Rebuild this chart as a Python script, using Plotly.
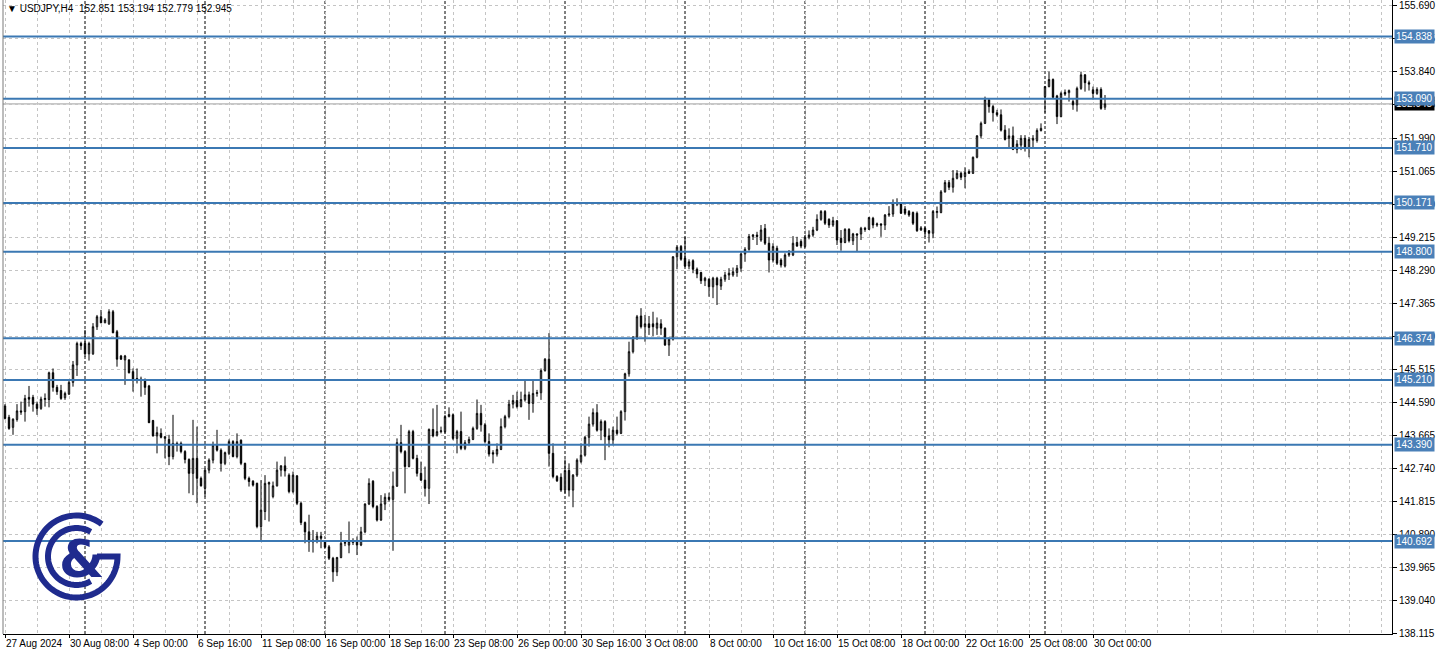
import math
import plotly.graph_objects as go

# ---------------- data (USDJPY H4) ----------------
opens = [
144.48,144.16,143.88,144.10,144.34,144.32,144.72,144.72,144.53,144.41,144.66,144.66,145.41,145.00,144.91,144.71,
144.81,145.14,145.63,146.23,146.23,145.94,145.94,146.70,146.98,146.81,146.78,147.12,146.56,145.88,145.77,145.77,
145.44,145.25,145.19,145.21,145.04,144.07,143.64,143.71,143.57,143.54,143.06,143.43,143.43,143.20,142.98,142.59,
143.01,142.45,142.17,142.68,142.96,143.38,143.24,142.87,143.15,143.48,143.06,143.52,142.87,142.45,142.37,142.31,
141.10,141.52,142.29,141.94,142.24,142.68,142.80,142.54,142.08,142.52,141.75,141.21,140.95,140.72,140.70,140.83,
140.70,140.53,140.21,139.83,140.23,140.63,140.58,140.65,140.70,140.58,140.95,141.73,142.37,141.66,141.28,141.73,
141.92,141.86,142.23,143.45,143.20,142.78,143.76,143.01,142.59,142.40,142.17,143.82,143.66,143.76,143.76,144.18,
144.23,143.57,143.76,143.29,143.45,143.54,143.85,144.27,143.95,143.48,143.17,143.13,143.26,143.90,144.18,144.53,
144.63,144.46,144.65,144.79,144.55,144.83,144.85,145.47,145.79,143.15,142.50,142.48,142.12,142.67,142.12,142.54,
142.92,143.10,143.60,143.97,144.29,143.80,144.04,143.64,143.53,143.80,143.71,144.32,145.38,146.00,146.40,147.00,
146.70,146.78,146.78,146.66,146.78,146.66,146.19,146.35,148.66,148.95,148.62,148.40,148.55,148.31,148.22,147.99,
148.03,147.82,148.06,147.84,148.03,148.15,148.15,148.22,148.34,148.74,148.87,149.23,149.27,149.13,149.45,149.04,
148.57,148.90,148.57,148.40,148.71,148.71,149.06,149.09,148.95,149.21,149.27,149.41,149.71,149.93,149.71,149.55,
149.67,149.18,149.06,149.43,149.11,149.30,149.30,149.46,149.43,149.74,149.55,149.58,149.55,149.83,149.86,150.18,
150.14,150.00,149.93,149.90,149.88,149.41,149.46,149.39,149.32,149.90,149.90,150.48,150.74,150.61,150.86,151.00,
150.91,151.05,151.00,151.45,152.05,152.40,153.06,152.87,152.70,152.64,152.21,151.98,152.05,151.67,151.79,151.98,
151.70,151.93,151.92,152.20,153.15,153.43,153.63,153.17,152.59,153.27,153.26,153.01,152.92,153.38,153.76,153.54,
153.34,153.24,153.35,152.851]
highs = [
144.53,144.23,144.13,144.53,144.60,144.79,145.04,144.79,144.60,144.74,144.83,145.44,145.53,145.07,145.07,144.88,
145.21,145.74,146.28,146.28,146.61,146.28,146.80,147.03,147.17,146.94,147.19,147.17,146.61,145.91,145.91,145.79,
145.53,145.53,145.30,145.25,145.07,144.09,143.90,143.85,143.62,143.67,144.23,143.48,143.48,143.24,143.01,144.09,
143.90,142.50,142.73,143.01,143.48,143.81,143.29,143.20,143.54,143.52,143.71,143.54,142.89,142.50,142.40,142.33,
142.40,142.54,142.36,142.36,142.92,142.82,143.06,142.59,142.64,142.54,141.80,141.24,141.43,141.00,140.95,140.95,
140.72,140.58,140.25,140.25,140.95,140.72,141.24,140.77,140.82,141.09,141.75,142.45,142.40,141.70,141.98,142.03,
142.05,142.64,143.57,143.95,143.24,143.81,143.81,143.11,142.92,142.78,143.85,144.41,144.51,143.90,144.23,144.44,
144.27,143.81,144.32,143.52,143.62,143.90,144.66,144.51,144.00,143.71,143.24,143.43,144.13,144.23,144.65,144.79,
144.88,144.88,145.21,144.88,145.21,144.93,145.53,145.82,146.52,143.43,142.54,142.59,142.98,142.87,142.57,143.01,
143.43,143.64,144.18,144.41,144.53,144.10,144.08,143.85,143.90,144.18,144.36,145.41,146.28,146.44,147.03,147.22,
147.03,147.00,147.12,146.96,146.91,146.68,146.40,148.68,148.99,148.99,149.22,148.59,148.59,148.36,148.24,148.10,
148.06,148.10,148.10,148.10,148.24,148.34,148.36,148.43,148.78,148.93,149.30,149.30,149.36,149.55,149.58,149.22,
149.04,148.97,148.62,148.76,148.85,149.24,149.22,149.15,149.27,149.40,149.50,149.85,149.97,149.97,149.74,149.78,
149.69,149.41,149.46,149.46,149.33,149.32,149.50,149.50,149.78,149.78,149.62,149.60,149.86,150.08,150.27,150.30,
150.18,150.08,149.97,149.93,149.93,149.52,149.50,149.41,149.97,150.07,150.53,150.81,150.81,151.09,151.09,151.05,
151.17,151.11,151.47,152.07,152.45,153.15,153.10,152.92,152.78,152.79,152.35,152.26,152.31,151.93,152.07,152.07,
152.02,152.07,152.26,152.40,153.45,153.85,153.66,153.20,153.29,153.35,153.35,153.07,153.43,153.85,153.78,153.60,
153.43,153.41,153.41,153.194]
lows = [
144.10,143.81,143.67,144.04,144.23,144.04,144.46,144.32,144.23,144.37,144.46,144.44,144.88,144.79,144.65,144.65,
144.79,145.02,145.32,146.05,145.86,145.75,145.91,146.61,146.80,146.80,146.75,146.52,145.58,145.77,145.07,145.39,
144.88,145.11,144.74,144.79,144.00,143.62,143.15,143.57,143.01,142.82,142.98,143.20,143.15,142.87,142.03,141.98,
141.75,142.22,141.94,142.59,142.87,143.20,142.64,142.82,143.10,143.04,143.01,142.82,142.40,142.22,142.22,141.05,
140.72,141.28,141.24,141.89,142.22,142.50,142.50,142.03,142.03,141.70,141.14,140.63,140.39,140.37,140.63,140.49,
140.49,140.16,139.55,139.71,140.21,140.55,140.35,140.58,140.30,140.55,140.91,141.70,141.61,141.24,141.26,141.56,
141.80,140.42,142.21,143.15,142.03,142.76,142.98,142.50,142.38,141.94,141.73,143.60,143.62,143.71,143.71,144.16,
143.52,143.15,143.24,143.24,143.38,143.52,143.81,143.76,143.43,143.06,142.87,143.06,143.24,143.85,144.13,144.41,
144.41,144.44,144.60,144.09,144.29,144.74,144.65,145.44,142.78,142.45,142.35,142.07,142.03,141.94,141.64,142.49,
142.87,143.06,143.34,143.90,143.76,143.52,142.96,143.32,143.38,143.66,143.69,144.07,145.30,145.95,146.33,146.65,
146.28,146.47,146.44,146.47,146.47,146.16,145.88,146.31,148.31,148.55,148.37,148.31,148.20,148.06,147.90,147.84,
147.54,147.50,147.31,147.73,147.96,148.01,148.10,148.10,148.24,148.52,148.83,149.13,148.99,149.08,148.99,148.22,
148.50,148.43,148.36,148.36,148.66,148.68,148.94,148.90,148.90,149.15,149.22,149.38,149.67,149.55,149.47,149.50,
148.99,148.83,149.04,149.06,148.99,148.80,149.13,149.36,149.41,149.46,149.50,149.22,149.41,149.78,149.78,150.08,
149.86,149.83,149.78,149.55,149.36,149.39,149.22,149.06,149.18,149.74,149.88,150.46,150.53,150.46,150.83,150.81,
150.58,150.98,150.98,151.42,151.98,152.38,152.70,152.45,152.59,152.17,151.92,151.70,151.65,151.56,151.65,151.61,
151.45,151.70,151.86,152.17,152.70,153.41,153.10,152.38,152.57,153.17,153.01,152.78,152.73,153.34,153.29,153.32,
153.07,153.20,152.78,152.779]
closes = [
144.13,143.85,144.11,144.34,144.31,144.69,144.67,144.53,144.41,144.67,144.69,145.41,145.00,144.88,144.69,144.83,
145.14,145.63,146.23,146.17,145.94,146.23,146.70,146.98,146.81,146.89,147.12,146.53,145.79,145.79,145.88,145.41,
145.19,145.19,145.23,145.00,144.01,143.64,143.73,143.60,143.62,143.06,143.43,143.38,143.20,142.98,142.59,143.01,
142.45,142.24,142.68,142.96,143.38,143.24,142.87,143.17,143.48,143.06,143.48,142.87,142.45,142.36,142.26,141.10,
141.56,142.31,142.33,142.24,142.68,142.80,142.66,142.08,142.54,141.75,141.21,140.95,140.67,140.67,140.83,140.77,
140.52,140.21,139.83,140.23,140.63,140.65,140.67,140.70,140.58,140.95,141.73,142.31,141.66,141.28,141.73,141.92,
141.86,142.23,143.45,143.20,142.78,143.76,143.01,142.59,142.40,142.17,143.82,143.64,143.76,143.78,144.18,144.24,
143.57,143.76,143.29,143.45,143.54,143.85,144.27,143.95,143.48,143.13,143.13,143.26,143.90,144.18,144.53,144.63,
144.46,144.66,144.79,144.55,144.83,144.85,145.47,145.79,143.15,142.50,142.38,142.12,142.67,142.12,142.54,142.96,
143.10,143.60,143.97,144.29,143.80,144.04,143.62,143.53,143.80,143.71,144.32,145.38,146.00,146.40,146.98,146.70,
146.78,146.68,146.70,146.80,146.66,146.19,146.35,148.66,148.93,148.59,148.40,148.52,148.31,148.18,147.99,148.06,
147.82,148.06,147.87,148.03,148.15,148.20,148.24,148.34,148.74,148.87,149.23,149.27,149.23,149.41,149.04,148.57,
148.95,148.48,148.43,148.71,148.76,149.04,148.96,148.96,149.21,149.27,149.41,149.71,149.93,149.60,149.55,149.67,
149.13,149.06,149.43,149.11,149.30,149.27,149.46,149.43,149.76,149.55,149.58,149.55,149.83,149.86,150.18,150.14,
149.88,149.88,149.83,149.60,149.39,149.47,149.36,149.32,149.93,149.93,150.48,150.74,150.61,150.86,151.00,150.89,
151.02,151.00,151.45,152.05,152.40,153.06,152.87,152.70,152.64,152.21,151.95,152.05,151.67,151.82,151.98,151.70,
151.95,151.98,152.20,152.26,153.43,153.63,153.13,152.59,153.24,153.22,153.32,152.92,153.38,153.76,153.54,153.50,
153.24,153.35,152.82,152.945]

date_labels = ["27 Aug 2024", "30 Aug 08:00", "4 Sep 00:00", "6 Sep 16:00", "11 Sep 08:00",
               "16 Sep 00:00", "18 Sep 16:00", "23 Sep 08:00", "26 Sep 00:00", "30 Sep 16:00",
               "3 Oct 08:00", "8 Oct 00:00", "10 Oct 16:00", "15 Oct 08:00", "18 Oct 00:00",
               "22 Oct 16:00", "25 Oct 08:00", "30 Oct 00:00"]
date_label_bars = [0, 16, 32, 48, 64, 80, 96, 112, 128, 144, 160, 176, 192, 208, 224, 240, 256, 272]
week_start_bars = [20, 50, 80, 110, 140, 170, 200, 230, 260]

price_ticks = [138.115, 139.040, 139.965, 140.890, 141.815, 142.740, 143.665, 144.590, 145.515,
               146.440, 147.365, 148.290, 149.215, 150.140, 151.065, 151.990, 152.915, 153.840,
               154.765, 155.690]
levels = [154.838, 153.090, 151.710, 150.171, 148.800, 146.374, 145.210, 143.390, 140.692]
bid_price = 152.945
symbol = "USDJPY,H4"
last_ohlc = ["152.851", "153.194", "152.779", "152.945"]

# ---------------- styling ----------------
W, H = 1440, 658
PL, PR, PT, PB = 3, 1392, 0, 634          # plot-area pixel box
GRID = "#c4c4c4"
LEVEL_LINE = "#3b78b3"
LEVEL_BOX = "#4a80b8"
NAVY = "#1f2b8e"
FONT = "Liberation Sans, Arial, sans-serif"

x = list(range(len(closes)))

fig = go.Figure()
fig.add_trace(go.Candlestick(
    x=x, open=opens, high=highs, low=lows, close=closes,
    increasing=dict(line=dict(color="black", width=1), fillcolor="white"),
    decreasing=dict(line=dict(color="black", width=1), fillcolor="black"),
    whiskerwidth=0, showlegend=False, hoverinfo="skip",
))

minor_vals = [k for k in range(0, 345, 8) if k not in date_label_bars]

fig.update_layout(
    width=W, height=H,
    margin=dict(l=PL, r=W - PR, t=PT, b=H - PB, pad=0, autoexpand=False),
    paper_bgcolor="white", plot_bgcolor="white",
    boxgap=0.5,
    font=dict(family=FONT, size=10, color="black"),
    showlegend=False,
    xaxis=dict(
        range=[-0.5, 346.75], rangeslider=dict(visible=False),
        tickmode="array", tickvals=date_label_bars, ticktext=date_labels,
        ticks="outside", ticklen=3, tickcolor="black", tickwidth=1,
        ticklabelposition="outside right", tickangle=0, automargin=False,
        tickfont=dict(family=FONT, size=10, color="black"),
        showgrid=True, gridcolor=GRID, griddash="3px,3px", gridwidth=1,
        minor=dict(tickmode="array", tickvals=minor_vals, showgrid=True,
                   gridcolor=GRID, griddash="3px,3px", gridwidth=1, ticks=""),
        showline=True, linecolor="black", linewidth=1, zeroline=False,
        fixedrange=True,
    ),
    yaxis=dict(
        side="right", range=[138.087, 155.858], automargin=False,
        tickmode="array", tickvals=price_ticks, ticktext=[f"{v:.3f}" for v in price_ticks],
        ticks="outside", ticklen=4, tickcolor="black", tickwidth=1,
        tickfont=dict(family=FONT, size=10, color="black"),
        showgrid=True, gridcolor=GRID, griddash="3px,3px", gridwidth=1,
        showline=True, linecolor="black", linewidth=1, zeroline=False,
        fixedrange=True,
    ),
)

shapes = []
# weekly period separators
for w in week_start_bars:
    shapes.append(dict(type="line", xref="x", yref="paper", x0=w, x1=w, y0=0, y1=1,
                       line=dict(color="black", width=1, dash="3px,2px"), layer="below"))
# bid line
shapes.append(dict(type="line", xref="paper", yref="y", x0=0, x1=1, y0=bid_price, y1=bid_price,
                   line=dict(color="#a0a0a0", width=1), layer="below"))
# support / resistance levels
for lv in levels:
    shapes.append(dict(type="line", xref="paper", yref="y", x0=0, x1=1, y0=lv, y1=lv,
                       line=dict(color=LEVEL_LINE, width=2), layer="above"))
# left frame
shapes.append(dict(type="line", xref="paper", yref="paper", x0=0, x1=0, y0=0, y1=1,
                   line=dict(color="#7a7a7a", width=1)))

# ---------- logo (decorative) ----------
def to_paper(px, py):
    return (px - PL) / (PR - PL), (PB - py) / (PB - PT)

def arc_pts(cx, cy, r, a0, a1, n=80):
    pts = []
    for k in range(n + 1):
        a = math.radians(a0 + (a1 - a0) * k / n)
        pts.append((cx + r * math.cos(a), cy - r * math.sin(a)))
    return pts

def path_from(pts):
    out = []
    for j, (px, py) in enumerate(pts):
        u, v = to_paper(px, py)
        out.append(("M" if j == 0 else "L") + f"{u:.5f},{v:.5f}")
    return " ".join(out)

cx, cy = 76.5, 556.5
outer = arc_pts(cx, cy, 41, 52, 360) + [(97, cy)]
inner = arc_pts(cx, cy, 28.5, 60, 300)
for pts in (outer, inner):
    shapes.append(dict(type="path", xref="paper", yref="paper", path=path_from(pts),
                       line=dict(color=NAVY, width=6), fillcolor="rgba(0,0,0,0)", layer="above"))

annotations = []
# title
annotations.append(dict(
    xref="paper", yref="paper", x=0, y=1, xanchor="left", yanchor="top", xshift=2, yshift=-1,
    showarrow=False, align="left",
    text="\u25BC\u00a0" + symbol + "\u00a0\u00a0" + "\u00a0".join(last_ohlc),
    font=dict(family=FONT, size=10, color="black"),
))
# current price box (under the blue boxes)
annotations.append(dict(
    xref="paper", yref="y", x=1, y=bid_price, xanchor="left", yanchor="middle", xshift=2,
    showarrow=False, text=f"{bid_price:.3f}", bgcolor="black", borderpad=1,
    font=dict(family=FONT, size=10, color="white"),
))
for lv in levels:
    annotations.append(dict(
        xref="paper", yref="y", x=1, y=lv, xanchor="left", yanchor="middle", xshift=2,
        showarrow=False, text=f"{lv:.3f}", bgcolor=LEVEL_BOX, borderpad=1,
        font=dict(family=FONT, size=10, color="white"),
    ))
# logo ampersand
ax, ay = to_paper(81.5, 559)
annotations.append(dict(
    xref="paper", yref="paper", x=ax, y=ay, xanchor="center", yanchor="middle",
    showarrow=False, text="<b>&amp;</b>",
    font=dict(family="DejaVu Sans, sans-serif", size=52, color=NAVY),
))

fig.update_layout(shapes=shapes, annotations=annotations)
fig.write_html("out.html", config={"displayModeBar": False},
               post_script="document.body.style.margin='0';document.body.style.overflow='hidden';")
